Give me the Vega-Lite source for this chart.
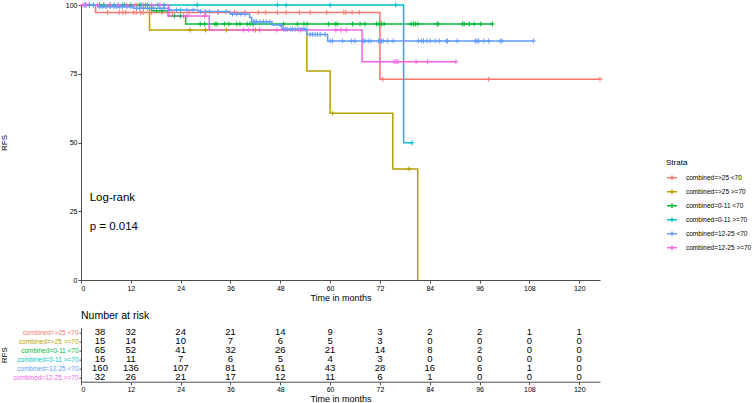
{
  "$schema": "https://vega.github.io/schema/vega-lite/v6.json",
  "background": "white",
  "padding": {"left": 0, "top": 0, "right": 5, "bottom": 2},
  "config": {
    "font": "Liberation Sans",
    "view": {"stroke": null},
    "axis": {"grid": false, "domainColor": "#4d4d4d", "tickColor": "#4d4d4d", "labelColor": "#000000", "titleColor": "#000000", "titleFontWeight": "normal", "labelFont": "Liberation Sans", "titleFont": "Liberation Sans"},
    "legend": {"titleFontWeight": "normal"}
  },
  "bounds": "flush",
  "spacing": 47.7,
  "datasets": {
    "curves": [
      {"strata": "combined=>25 <70", "time": 0, "surv": 100},
      {"strata": "combined=>25 <70", "time": 3.5, "surv": 97.3},
      {"strata": "combined=>25 <70", "time": 72, "surv": 73},
      {"strata": "combined=>25 <70", "time": 125, "surv": 73},
      {"strata": "combined=>25 >=70", "time": 0, "surv": 100},
      {"strata": "combined=>25 >=70", "time": 16.5, "surv": 90.9},
      {"strata": "combined=>25 >=70", "time": 54.4, "surv": 76},
      {"strata": "combined=>25 >=70", "time": 60, "surv": 60.6},
      {"strata": "combined=>25 >=70", "time": 75.1, "surv": 40.4},
      {"strata": "combined=>25 >=70", "time": 81.1, "surv": 0},
      {"strata": "combined=0-11 <70", "time": 0, "surv": 100},
      {"strata": "combined=0-11 <70", "time": 17, "surv": 97.9},
      {"strata": "combined=0-11 <70", "time": 21, "surv": 96},
      {"strata": "combined=0-11 <70", "time": 25.2, "surv": 93.1},
      {"strata": "combined=0-11 <70", "time": 99.1, "surv": 93.1},
      {"strata": "combined=0-11 >=70", "time": 0, "surv": 100},
      {"strata": "combined=0-11 >=70", "time": 77.7, "surv": 49.9},
      {"strata": "combined=0-11 >=70", "time": 79.7, "surv": 49.9},
      {"strata": "combined=12-25 <70", "time": 0, "surv": 100},
      {"strata": "combined=12-25 <70", "time": 4, "surv": 99.4},
      {"strata": "combined=12-25 <70", "time": 12.6, "surv": 98.8},
      {"strata": "combined=12-25 <70", "time": 21, "surv": 98.2},
      {"strata": "combined=12-25 <70", "time": 28.3, "surv": 97.6},
      {"strata": "combined=12-25 <70", "time": 35.9, "surv": 96.7},
      {"strata": "combined=12-25 <70", "time": 40.6, "surv": 95.5},
      {"strata": "combined=12-25 <70", "time": 41.1, "surv": 93.9},
      {"strata": "combined=12-25 <70", "time": 46, "surv": 92.7},
      {"strata": "combined=12-25 <70", "time": 48.4, "surv": 91.2},
      {"strata": "combined=12-25 <70", "time": 54.4, "surv": 89.3},
      {"strata": "combined=12-25 <70", "time": 59.4, "surv": 86.9},
      {"strata": "combined=12-25 <70", "time": 109, "surv": 86.9},
      {"strata": "combined=12-25 >=70", "time": 0, "surv": 100},
      {"strata": "combined=12-25 >=70", "time": 21.1, "surv": 96},
      {"strata": "combined=12-25 >=70", "time": 30.9, "surv": 90.9},
      {"strata": "combined=12-25 >=70", "time": 67.7, "surv": 79.4},
      {"strata": "combined=12-25 >=70", "time": 90.3, "surv": 79.4}
    ],
    "censor": [
      {"strata": "combined=>25 <70", "time": 6.4, "surv": 97.3},
      {"strata": "combined=>25 <70", "time": 9.2, "surv": 97.3},
      {"strata": "combined=>25 <70", "time": 10.1, "surv": 97.3},
      {"strata": "combined=>25 <70", "time": 10.8, "surv": 97.3},
      {"strata": "combined=>25 <70", "time": 12.6, "surv": 97.3},
      {"strata": "combined=>25 <70", "time": 13.3, "surv": 97.3},
      {"strata": "combined=>25 <70", "time": 14.4, "surv": 97.3},
      {"strata": "combined=>25 <70", "time": 15, "surv": 97.3},
      {"strata": "combined=>25 <70", "time": 17, "surv": 97.3},
      {"strata": "combined=>25 <70", "time": 19.5, "surv": 97.3},
      {"strata": "combined=>25 <70", "time": 22, "surv": 97.3},
      {"strata": "combined=>25 <70", "time": 26, "surv": 97.3},
      {"strata": "combined=>25 <70", "time": 30, "surv": 97.3},
      {"strata": "combined=>25 <70", "time": 33, "surv": 97.3},
      {"strata": "combined=>25 <70", "time": 37, "surv": 97.3},
      {"strata": "combined=>25 <70", "time": 39.5, "surv": 97.3},
      {"strata": "combined=>25 <70", "time": 42.7, "surv": 97.3},
      {"strata": "combined=>25 <70", "time": 44.5, "surv": 97.3},
      {"strata": "combined=>25 <70", "time": 47.3, "surv": 97.3},
      {"strata": "combined=>25 <70", "time": 49.4, "surv": 97.3},
      {"strata": "combined=>25 <70", "time": 52.6, "surv": 97.3},
      {"strata": "combined=>25 <70", "time": 55.2, "surv": 97.3},
      {"strata": "combined=>25 <70", "time": 59.2, "surv": 97.3},
      {"strata": "combined=>25 <70", "time": 63.3, "surv": 97.3},
      {"strata": "combined=>25 <70", "time": 63.8, "surv": 97.3},
      {"strata": "combined=>25 <70", "time": 65.3, "surv": 97.3},
      {"strata": "combined=>25 <70", "time": 67, "surv": 97.3},
      {"strata": "combined=>25 <70", "time": 72.7, "surv": 73},
      {"strata": "combined=>25 <70", "time": 98.2, "surv": 73},
      {"strata": "combined=>25 <70", "time": 125, "surv": 73},
      {"strata": "combined=>25 >=70", "time": 5.5, "surv": 100},
      {"strata": "combined=>25 >=70", "time": 13.5, "surv": 100},
      {"strata": "combined=>25 >=70", "time": 26.3, "surv": 90.9},
      {"strata": "combined=>25 >=70", "time": 30, "surv": 90.9},
      {"strata": "combined=>25 >=70", "time": 35, "surv": 90.9},
      {"strata": "combined=>25 >=70", "time": 42, "surv": 90.9},
      {"strata": "combined=>25 >=70", "time": 60.6, "surv": 60.6},
      {"strata": "combined=>25 >=70", "time": 79, "surv": 40.4},
      {"strata": "combined=0-11 <70", "time": 2, "surv": 100},
      {"strata": "combined=0-11 <70", "time": 4.5, "surv": 100},
      {"strata": "combined=0-11 <70", "time": 7, "surv": 100},
      {"strata": "combined=0-11 <70", "time": 9, "surv": 100},
      {"strata": "combined=0-11 <70", "time": 10.5, "surv": 100},
      {"strata": "combined=0-11 <70", "time": 12, "surv": 100},
      {"strata": "combined=0-11 <70", "time": 14.2, "surv": 100},
      {"strata": "combined=0-11 <70", "time": 15.5, "surv": 100},
      {"strata": "combined=0-11 <70", "time": 18.2, "surv": 97.9},
      {"strata": "combined=0-11 <70", "time": 19.5, "surv": 97.9},
      {"strata": "combined=0-11 <70", "time": 22.5, "surv": 96},
      {"strata": "combined=0-11 <70", "time": 24, "surv": 96},
      {"strata": "combined=0-11 <70", "time": 28.7, "surv": 93.1},
      {"strata": "combined=0-11 <70", "time": 29.8, "surv": 93.1},
      {"strata": "combined=0-11 <70", "time": 32.3, "surv": 93.1},
      {"strata": "combined=0-11 <70", "time": 32.7, "surv": 93.1},
      {"strata": "combined=0-11 <70", "time": 34.6, "surv": 93.1},
      {"strata": "combined=0-11 <70", "time": 35.6, "surv": 93.1},
      {"strata": "combined=0-11 <70", "time": 37.5, "surv": 93.1},
      {"strata": "combined=0-11 <70", "time": 38.3, "surv": 93.1},
      {"strata": "combined=0-11 <70", "time": 40, "surv": 93.1},
      {"strata": "combined=0-11 <70", "time": 40.7, "surv": 93.1},
      {"strata": "combined=0-11 <70", "time": 41.5, "surv": 93.1},
      {"strata": "combined=0-11 <70", "time": 48.8, "surv": 93.1},
      {"strata": "combined=0-11 <70", "time": 52.1, "surv": 93.1},
      {"strata": "combined=0-11 <70", "time": 53.7, "surv": 93.1},
      {"strata": "combined=0-11 <70", "time": 54.5, "surv": 93.1},
      {"strata": "combined=0-11 <70", "time": 59.6, "surv": 93.1},
      {"strata": "combined=0-11 <70", "time": 61.2, "surv": 93.1},
      {"strata": "combined=0-11 <70", "time": 61.7, "surv": 93.1},
      {"strata": "combined=0-11 <70", "time": 65.4, "surv": 93.1},
      {"strata": "combined=0-11 <70", "time": 67.2, "surv": 93.1},
      {"strata": "combined=0-11 <70", "time": 68.4, "surv": 93.1},
      {"strata": "combined=0-11 <70", "time": 71.2, "surv": 93.1},
      {"strata": "combined=0-11 <70", "time": 71.8, "surv": 93.1},
      {"strata": "combined=0-11 <70", "time": 72.4, "surv": 93.1},
      {"strata": "combined=0-11 <70", "time": 73, "surv": 93.1},
      {"strata": "combined=0-11 <70", "time": 79.5, "surv": 93.1},
      {"strata": "combined=0-11 <70", "time": 80.1, "surv": 93.1},
      {"strata": "combined=0-11 <70", "time": 80.5, "surv": 93.1},
      {"strata": "combined=0-11 <70", "time": 81.1, "surv": 93.1},
      {"strata": "combined=0-11 <70", "time": 85.8, "surv": 93.1},
      {"strata": "combined=0-11 <70", "time": 86, "surv": 93.1},
      {"strata": "combined=0-11 <70", "time": 91.9, "surv": 93.1},
      {"strata": "combined=0-11 <70", "time": 92.3, "surv": 93.1},
      {"strata": "combined=0-11 <70", "time": 93.5, "surv": 93.1},
      {"strata": "combined=0-11 <70", "time": 94.7, "surv": 93.1},
      {"strata": "combined=0-11 <70", "time": 96.3, "surv": 93.1},
      {"strata": "combined=0-11 <70", "time": 99.1, "surv": 93.1},
      {"strata": "combined=0-11 >=70", "time": 1, "surv": 100},
      {"strata": "combined=0-11 >=70", "time": 3, "surv": 100},
      {"strata": "combined=0-11 >=70", "time": 5.5, "surv": 100},
      {"strata": "combined=0-11 >=70", "time": 8, "surv": 100},
      {"strata": "combined=0-11 >=70", "time": 10, "surv": 100},
      {"strata": "combined=0-11 >=70", "time": 14.5, "surv": 100},
      {"strata": "combined=0-11 >=70", "time": 16, "surv": 100},
      {"strata": "combined=0-11 >=70", "time": 18.5, "surv": 100},
      {"strata": "combined=0-11 >=70", "time": 20, "surv": 100},
      {"strata": "combined=0-11 >=70", "time": 28, "surv": 100},
      {"strata": "combined=0-11 >=70", "time": 47.3, "surv": 100},
      {"strata": "combined=0-11 >=70", "time": 49.4, "surv": 100},
      {"strata": "combined=0-11 >=70", "time": 60, "surv": 100},
      {"strata": "combined=0-11 >=70", "time": 75.8, "surv": 100},
      {"strata": "combined=0-11 >=70", "time": 79.7, "surv": 49.9},
      {"strata": "combined=12-25 <70", "time": 1, "surv": 100},
      {"strata": "combined=12-25 <70", "time": 2, "surv": 100},
      {"strata": "combined=12-25 <70", "time": 3, "surv": 100},
      {"strata": "combined=12-25 <70", "time": 4.5, "surv": 99.4},
      {"strata": "combined=12-25 <70", "time": 5.2, "surv": 99.4},
      {"strata": "combined=12-25 <70", "time": 6, "surv": 99.4},
      {"strata": "combined=12-25 <70", "time": 7, "surv": 99.4},
      {"strata": "combined=12-25 <70", "time": 8, "surv": 99.4},
      {"strata": "combined=12-25 <70", "time": 8.6, "surv": 99.4},
      {"strata": "combined=12-25 <70", "time": 9.3, "surv": 99.4},
      {"strata": "combined=12-25 <70", "time": 10, "surv": 99.4},
      {"strata": "combined=12-25 <70", "time": 11, "surv": 99.4},
      {"strata": "combined=12-25 <70", "time": 12, "surv": 99.4},
      {"strata": "combined=12-25 <70", "time": 13.4, "surv": 98.8},
      {"strata": "combined=12-25 <70", "time": 14.1, "surv": 98.8},
      {"strata": "combined=12-25 <70", "time": 15, "surv": 98.8},
      {"strata": "combined=12-25 <70", "time": 16, "surv": 98.8},
      {"strata": "combined=12-25 <70", "time": 17.5, "surv": 98.8},
      {"strata": "combined=12-25 <70", "time": 19, "surv": 98.8},
      {"strata": "combined=12-25 <70", "time": 20, "surv": 98.8},
      {"strata": "combined=12-25 <70", "time": 21.4, "surv": 98.2},
      {"strata": "combined=12-25 <70", "time": 23, "surv": 98.2},
      {"strata": "combined=12-25 <70", "time": 24, "surv": 98.2},
      {"strata": "combined=12-25 <70", "time": 25.5, "surv": 98.2},
      {"strata": "combined=12-25 <70", "time": 27, "surv": 98.2},
      {"strata": "combined=12-25 <70", "time": 28.8, "surv": 97.6},
      {"strata": "combined=12-25 <70", "time": 30, "surv": 97.6},
      {"strata": "combined=12-25 <70", "time": 31, "surv": 97.6},
      {"strata": "combined=12-25 <70", "time": 33, "surv": 97.6},
      {"strata": "combined=12-25 <70", "time": 35, "surv": 97.6},
      {"strata": "combined=12-25 <70", "time": 36.5, "surv": 96.7},
      {"strata": "combined=12-25 <70", "time": 37.5, "surv": 96.7},
      {"strata": "combined=12-25 <70", "time": 38.5, "surv": 96.7},
      {"strata": "combined=12-25 <70", "time": 39.5, "surv": 96.7},
      {"strata": "combined=12-25 <70", "time": 41.5, "surv": 93.9},
      {"strata": "combined=12-25 <70", "time": 41.9, "surv": 93.9},
      {"strata": "combined=12-25 <70", "time": 42.3, "surv": 93.9},
      {"strata": "combined=12-25 <70", "time": 43.1, "surv": 93.9},
      {"strata": "combined=12-25 <70", "time": 43.9, "surv": 93.9},
      {"strata": "combined=12-25 <70", "time": 44.7, "surv": 93.9},
      {"strata": "combined=12-25 <70", "time": 45.5, "surv": 93.9},
      {"strata": "combined=12-25 <70", "time": 48, "surv": 92.7},
      {"strata": "combined=12-25 <70", "time": 48.8, "surv": 91.2},
      {"strata": "combined=12-25 <70", "time": 49.2, "surv": 91.2},
      {"strata": "combined=12-25 <70", "time": 49.7, "surv": 91.2},
      {"strata": "combined=12-25 <70", "time": 50.4, "surv": 91.2},
      {"strata": "combined=12-25 <70", "time": 50.9, "surv": 91.2},
      {"strata": "combined=12-25 <70", "time": 51.6, "surv": 91.2},
      {"strata": "combined=12-25 <70", "time": 52.4, "surv": 91.2},
      {"strata": "combined=12-25 <70", "time": 53.2, "surv": 91.2},
      {"strata": "combined=12-25 <70", "time": 53.7, "surv": 91.2},
      {"strata": "combined=12-25 <70", "time": 54.2, "surv": 91.2},
      {"strata": "combined=12-25 <70", "time": 55.2, "surv": 89.3},
      {"strata": "combined=12-25 <70", "time": 55.8, "surv": 89.3},
      {"strata": "combined=12-25 <70", "time": 56.4, "surv": 89.3},
      {"strata": "combined=12-25 <70", "time": 57, "surv": 89.3},
      {"strata": "combined=12-25 <70", "time": 57.6, "surv": 89.3},
      {"strata": "combined=12-25 <70", "time": 58.8, "surv": 89.3},
      {"strata": "combined=12-25 <70", "time": 60, "surv": 86.9},
      {"strata": "combined=12-25 <70", "time": 60.6, "surv": 86.9},
      {"strata": "combined=12-25 <70", "time": 63, "surv": 86.9},
      {"strata": "combined=12-25 <70", "time": 65.2, "surv": 86.9},
      {"strata": "combined=12-25 <70", "time": 66, "surv": 86.9},
      {"strata": "combined=12-25 <70", "time": 68, "surv": 86.9},
      {"strata": "combined=12-25 <70", "time": 68.4, "surv": 86.9},
      {"strata": "combined=12-25 <70", "time": 69.2, "surv": 86.9},
      {"strata": "combined=12-25 <70", "time": 69.8, "surv": 86.9},
      {"strata": "combined=12-25 <70", "time": 71.6, "surv": 86.9},
      {"strata": "combined=12-25 <70", "time": 72, "surv": 86.9},
      {"strata": "combined=12-25 <70", "time": 72.4, "surv": 86.9},
      {"strata": "combined=12-25 <70", "time": 72.8, "surv": 86.9},
      {"strata": "combined=12-25 <70", "time": 73.8, "surv": 86.9},
      {"strata": "combined=12-25 <70", "time": 75.2, "surv": 86.9},
      {"strata": "combined=12-25 <70", "time": 81.2, "surv": 86.9},
      {"strata": "combined=12-25 <70", "time": 82, "surv": 86.9},
      {"strata": "combined=12-25 <70", "time": 82.5, "surv": 86.9},
      {"strata": "combined=12-25 <70", "time": 83.3, "surv": 86.9},
      {"strata": "combined=12-25 <70", "time": 84.1, "surv": 86.9},
      {"strata": "combined=12-25 <70", "time": 85.3, "surv": 86.9},
      {"strata": "combined=12-25 <70", "time": 86.3, "surv": 86.9},
      {"strata": "combined=12-25 <70", "time": 88, "surv": 86.9},
      {"strata": "combined=12-25 <70", "time": 88.3, "surv": 86.9},
      {"strata": "combined=12-25 <70", "time": 90.6, "surv": 86.9},
      {"strata": "combined=12-25 <70", "time": 95, "surv": 86.9},
      {"strata": "combined=12-25 <70", "time": 95.4, "surv": 86.9},
      {"strata": "combined=12-25 <70", "time": 95.8, "surv": 86.9},
      {"strata": "combined=12-25 <70", "time": 97, "surv": 86.9},
      {"strata": "combined=12-25 <70", "time": 98.2, "surv": 86.9},
      {"strata": "combined=12-25 <70", "time": 101, "surv": 86.9},
      {"strata": "combined=12-25 <70", "time": 101.4, "surv": 86.9},
      {"strata": "combined=12-25 <70", "time": 109, "surv": 86.9},
      {"strata": "combined=12-25 >=70", "time": 0.5, "surv": 100},
      {"strata": "combined=12-25 >=70", "time": 1.3, "surv": 100},
      {"strata": "combined=12-25 >=70", "time": 4, "surv": 100},
      {"strata": "combined=12-25 >=70", "time": 7, "surv": 100},
      {"strata": "combined=12-25 >=70", "time": 9, "surv": 100},
      {"strata": "combined=12-25 >=70", "time": 11, "surv": 100},
      {"strata": "combined=12-25 >=70", "time": 13, "surv": 100},
      {"strata": "combined=12-25 >=70", "time": 15, "surv": 100},
      {"strata": "combined=12-25 >=70", "time": 17, "surv": 100},
      {"strata": "combined=12-25 >=70", "time": 19, "surv": 100},
      {"strata": "combined=12-25 >=70", "time": 24.7, "surv": 96},
      {"strata": "combined=12-25 >=70", "time": 25.5, "surv": 96},
      {"strata": "combined=12-25 >=70", "time": 29.8, "surv": 96},
      {"strata": "combined=12-25 >=70", "time": 39.1, "surv": 90.9},
      {"strata": "combined=12-25 >=70", "time": 40.3, "surv": 90.9},
      {"strata": "combined=12-25 >=70", "time": 41.5, "surv": 90.9},
      {"strata": "combined=12-25 >=70", "time": 43, "surv": 90.9},
      {"strata": "combined=12-25 >=70", "time": 47.2, "surv": 90.9},
      {"strata": "combined=12-25 >=70", "time": 52.8, "surv": 90.9},
      {"strata": "combined=12-25 >=70", "time": 61.4, "surv": 90.9},
      {"strata": "combined=12-25 >=70", "time": 62.6, "surv": 90.9},
      {"strata": "combined=12-25 >=70", "time": 63.9, "surv": 90.9},
      {"strata": "combined=12-25 >=70", "time": 71.9, "surv": 79.4},
      {"strata": "combined=12-25 >=70", "time": 75.4, "surv": 79.4},
      {"strata": "combined=12-25 >=70", "time": 75.9, "surv": 79.4},
      {"strata": "combined=12-25 >=70", "time": 76.3, "surv": 79.4},
      {"strata": "combined=12-25 >=70", "time": 80.7, "surv": 79.4},
      {"strata": "combined=12-25 >=70", "time": 83.5, "surv": 79.4},
      {"strata": "combined=12-25 >=70", "time": 90.3, "surv": 79.4}
    ],
    "notes": [
      {"label": "Log-rank", "time": 2.1, "surv": 29.8},
      {"label": "p = 0.014", "time": 2.1, "surv": 19.3}
    ],
    "risk": [
      {"strata": "combined=>25 <70", "time": 0, "n": 38}, {"strata": "combined=>25 <70", "time": 12, "n": 32}, {"strata": "combined=>25 <70", "time": 24, "n": 24}, {"strata": "combined=>25 <70", "time": 36, "n": 21}, {"strata": "combined=>25 <70", "time": 48, "n": 14}, {"strata": "combined=>25 <70", "time": 60, "n": 9}, {"strata": "combined=>25 <70", "time": 72, "n": 3}, {"strata": "combined=>25 <70", "time": 84, "n": 2}, {"strata": "combined=>25 <70", "time": 96, "n": 2}, {"strata": "combined=>25 <70", "time": 108, "n": 1}, {"strata": "combined=>25 <70", "time": 120, "n": 1},
      {"strata": "combined=>25 >=70", "time": 0, "n": 15}, {"strata": "combined=>25 >=70", "time": 12, "n": 14}, {"strata": "combined=>25 >=70", "time": 24, "n": 10}, {"strata": "combined=>25 >=70", "time": 36, "n": 7}, {"strata": "combined=>25 >=70", "time": 48, "n": 6}, {"strata": "combined=>25 >=70", "time": 60, "n": 5}, {"strata": "combined=>25 >=70", "time": 72, "n": 3}, {"strata": "combined=>25 >=70", "time": 84, "n": 0}, {"strata": "combined=>25 >=70", "time": 96, "n": 0}, {"strata": "combined=>25 >=70", "time": 108, "n": 0}, {"strata": "combined=>25 >=70", "time": 120, "n": 0},
      {"strata": "combined=0-11 <70", "time": 0, "n": 65}, {"strata": "combined=0-11 <70", "time": 12, "n": 52}, {"strata": "combined=0-11 <70", "time": 24, "n": 41}, {"strata": "combined=0-11 <70", "time": 36, "n": 32}, {"strata": "combined=0-11 <70", "time": 48, "n": 26}, {"strata": "combined=0-11 <70", "time": 60, "n": 21}, {"strata": "combined=0-11 <70", "time": 72, "n": 14}, {"strata": "combined=0-11 <70", "time": 84, "n": 8}, {"strata": "combined=0-11 <70", "time": 96, "n": 2}, {"strata": "combined=0-11 <70", "time": 108, "n": 0}, {"strata": "combined=0-11 <70", "time": 120, "n": 0},
      {"strata": "combined=0-11 >=70", "time": 0, "n": 16}, {"strata": "combined=0-11 >=70", "time": 12, "n": 11}, {"strata": "combined=0-11 >=70", "time": 24, "n": 7}, {"strata": "combined=0-11 >=70", "time": 36, "n": 6}, {"strata": "combined=0-11 >=70", "time": 48, "n": 5}, {"strata": "combined=0-11 >=70", "time": 60, "n": 4}, {"strata": "combined=0-11 >=70", "time": 72, "n": 3}, {"strata": "combined=0-11 >=70", "time": 84, "n": 0}, {"strata": "combined=0-11 >=70", "time": 96, "n": 0}, {"strata": "combined=0-11 >=70", "time": 108, "n": 0}, {"strata": "combined=0-11 >=70", "time": 120, "n": 0},
      {"strata": "combined=12-25 <70", "time": 0, "n": 160}, {"strata": "combined=12-25 <70", "time": 12, "n": 136}, {"strata": "combined=12-25 <70", "time": 24, "n": 107}, {"strata": "combined=12-25 <70", "time": 36, "n": 81}, {"strata": "combined=12-25 <70", "time": 48, "n": 61}, {"strata": "combined=12-25 <70", "time": 60, "n": 43}, {"strata": "combined=12-25 <70", "time": 72, "n": 28}, {"strata": "combined=12-25 <70", "time": 84, "n": 16}, {"strata": "combined=12-25 <70", "time": 96, "n": 6}, {"strata": "combined=12-25 <70", "time": 108, "n": 1}, {"strata": "combined=12-25 <70", "time": 120, "n": 0},
      {"strata": "combined=12-25 >=70", "time": 0, "n": 32}, {"strata": "combined=12-25 >=70", "time": 12, "n": 26}, {"strata": "combined=12-25 >=70", "time": 24, "n": 21}, {"strata": "combined=12-25 >=70", "time": 36, "n": 17}, {"strata": "combined=12-25 >=70", "time": 48, "n": 12}, {"strata": "combined=12-25 >=70", "time": 60, "n": 11}, {"strata": "combined=12-25 >=70", "time": 72, "n": 6}, {"strata": "combined=12-25 >=70", "time": 84, "n": 1}, {"strata": "combined=12-25 >=70", "time": 96, "n": 0}, {"strata": "combined=12-25 >=70", "time": 108, "n": 0}, {"strata": "combined=12-25 >=70", "time": 120, "n": 0}
    ]
  },
  "vconcat": [
    {
      "width": 519,
      "height": 275,
      "layer": [
        {
          "data": {"name": "curves"},
          "mark": {"type": "line", "interpolate": "step-after", "strokeWidth": 1.5},
          "encoding": {
            "x": {"field": "time", "type": "quantitative", "scale": {"domain": [0, 125], "nice": false, "zero": false},
              "axis": {"values": [0, 12, 24, 36, 48, 60, 72, 84, 96, 108, 120], "title": "Time in months", "titleFontSize": 9, "labelFontSize": 7, "tickSize": 3, "labelPadding": 1, "titlePadding": 2}},
            "y": {"field": "surv", "type": "quantitative", "scale": {"domain": [0, 100], "nice": false},
              "axis": {"values": [0, 25, 50, 75, 100], "title": "RFS", "titleFontSize": 8, "labelFontSize": 7, "tickSize": 3, "labelPadding": 1, "minExtent": 70, "maxExtent": 70, "titlePadding": 3}},
            "color": {"field": "strata", "type": "nominal",
              "scale": {"domain": ["combined=>25 <70", "combined=>25 >=70", "combined=0-11 <70", "combined=0-11 >=70", "combined=12-25 <70", "combined=12-25 >=70"], "range": ["#F8766D", "#B79F00", "#00BA38", "#00BFC4", "#619CFF", "#F564E3"]},
              "legend": {"title": "Strata", "orient": "none", "legendX": 585, "legendY": 154, "titleFontSize": 8, "labelFontSize": 6.5, "titlePadding": 5, "symbolType": "M-1,0H1M0,-0.45V0.45", "symbolSize": 100, "symbolStrokeWidth": 1.5, "clipHeight": 11.5, "rowPadding": 2, "labelOffset": 8}},
            "order": {"field": "time", "type": "quantitative"}
          }
        },
        {
          "data": {"name": "censor"},
          "mark": {"type": "point", "shape": "M0,-1V1M-1,0H1", "filled": false, "size": 25, "strokeWidth": 1, "opacity": 1},
          "encoding": {
            "x": {"field": "time", "type": "quantitative"},
            "y": {"field": "surv", "type": "quantitative"},
            "color": {"field": "strata", "type": "nominal",
              "legend": {"title": "Strata", "orient": "none", "legendX": 585, "legendY": 154, "titleFontSize": 8, "labelFontSize": 6.5, "titlePadding": 5, "symbolType": "M-1,0H1M0,-0.45V0.45", "symbolSize": 100, "symbolStrokeWidth": 1.5, "clipHeight": 11.5, "rowPadding": 2, "labelOffset": 8}}
          }
        },
        {
          "data": {"name": "notes"},
          "mark": {"type": "text", "align": "left", "baseline": "middle", "fontSize": 11.5, "color": "#000000"},
          "encoding": {
            "x": {"field": "time", "type": "quantitative"},
            "y": {"field": "surv", "type": "quantitative"},
            "text": {"field": "label"}
          }
        }
      ]
    },
    {
      "width": 519,
      "height": 54,
      "title": {"text": "Number at risk", "anchor": "start", "frame": "group", "fontSize": 10.5, "fontWeight": "normal", "offset": 6, "color": "#000000"},
      "data": {"name": "risk"},
      "encoding": {
        "x": {"field": "time", "type": "quantitative", "scale": {"domain": [0, 125], "nice": false, "zero": false},
          "axis": {"values": [0, 12, 24, 36, 48, 60, 72, 84, 96, 108, 120], "title": "Time in months", "titleFontSize": 9, "labelFontSize": 7, "tickSize": 3, "labelPadding": 1, "titlePadding": 2}},
        "y": {"field": "strata", "type": "nominal",
          "scale": {"type": "point", "padding": 0.5, "domain": ["combined=>25 <70", "combined=>25 >=70", "combined=0-11 <70", "combined=0-11 >=70", "combined=12-25 <70", "combined=12-25 >=70"]},
          "axis": {"title": "RFS", "titleFontSize": 8, "labelFontSize": 6.5, "tickSize": 2, "labelPadding": 1, "minExtent": 70, "maxExtent": 70, "titlePadding": 3,
            "labelColor": {"condition": [
              {"test": "datum.value === 'combined=>25 <70'", "value": "#F8766D"},
              {"test": "datum.value === 'combined=>25 >=70'", "value": "#B79F00"},
              {"test": "datum.value === 'combined=0-11 <70'", "value": "#00BA38"},
              {"test": "datum.value === 'combined=0-11 >=70'", "value": "#00BFC4"},
              {"test": "datum.value === 'combined=12-25 <70'", "value": "#619CFF"}
            ], "value": "#F564E3"}}},
        "text": {"field": "n", "type": "quantitative"}
      },
      "layer": [
        {"transform": [{"filter": "datum.time > 0"}], "mark": {"type": "text", "fontSize": 9.5, "color": "#000000"}},
        {"transform": [{"filter": "datum.time == 0"}], "mark": {"type": "text", "fontSize": 9.5, "color": "#000000", "dx": 19}}
      ]
    }
  ]
}
